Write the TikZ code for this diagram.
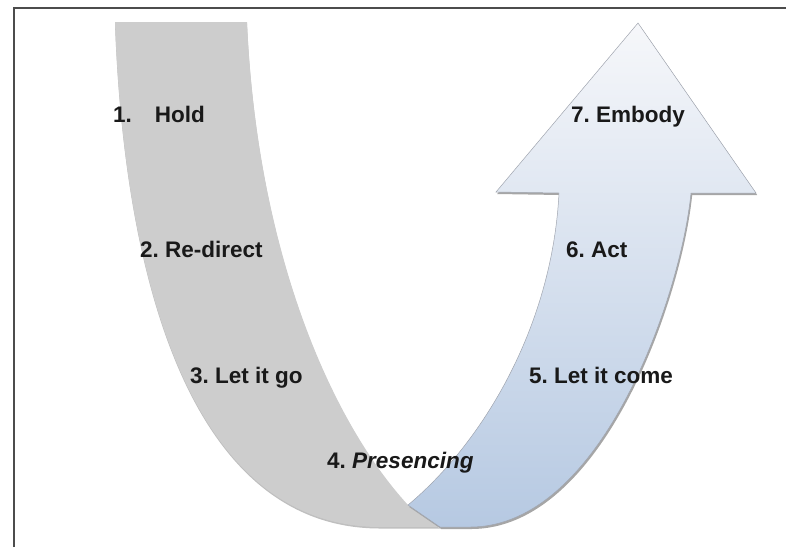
\documentclass[tikz,border=0pt]{standalone}
\usepackage{fontspec}
\setmainfont{Liberation Sans}
\usepackage{tikz}
\usepackage{xcolor}
\usetikzlibrary{positioning}
\frenchspacing

\definecolor{bandgray}{RGB}{205,205,205}
\definecolor{arrowtop}{RGB}{246,247,250}
\definecolor{arrowbot}{RGB}{182,201,226}
\definecolor{edgegray}{RGB}{160,165,175}

% the gray band going down, drawn with the given options
\newcommand{\fallshape}[1]{%
  \path[#1] (115,22) .. controls (125,300) and (200,527) .. (380,527)
    -- (440,527) -- (408,505)
    .. controls (330,420) and (257,250) .. (247,22) -- cycle;}

% the rising blue arrow, drawn with the given options
\newcommand{\riseshape}[1]{%
  \path[#1] (440,527) -- (470,527)
    .. controls (600,527) and (680,300) .. (691,193)
    -- (756,193) -- (638,23) -- (496,192) -- (559,193)
    .. controls (552,330) and (480,445) .. (408,505) -- cycle;}

\begin{document}
\begin{tikzpicture}[x=1pt,y=-1pt,
  steplabel/.style={anchor=base west, inner sep=0pt,
    font=\fontsize{22.5}{26}\selectfont\bfseries, text=black!90}]
\useasboundingbox (0,0) rectangle (786,547);

% frame
\draw[line width=2.2pt, black!70] (14,547) -- (14,8) -- (786,8);

% gray band going down
\fallshape{fill=black!25, shift={(0,1.5)}}
\fallshape{fill=bandgray}

% blue arrow going up
\riseshape{fill=black!35, shift={(1.2,2)}}
\riseshape{top color=arrowtop, bottom color=arrowbot, draw=edgegray, line width=0.5pt}

% steps
\node[steplabel] (hold) at (113,122) {1.\hspace{23pt}Hold};
\node[steplabel] (redirect) at (140,257) {2. Re-direct};
\node[steplabel] (letgo) at (190,383) {3. Let it go};
\node[steplabel] (presencing) at (327,468) {4. \textit{Presencing}};
\node[steplabel] (letcome) at (529,383) {5. Let it come};
\node[steplabel] (act) at (566,257) {6. Act};
\node[steplabel] (embody) at (571,122) {7. Embody};
\end{tikzpicture}
\end{document}
